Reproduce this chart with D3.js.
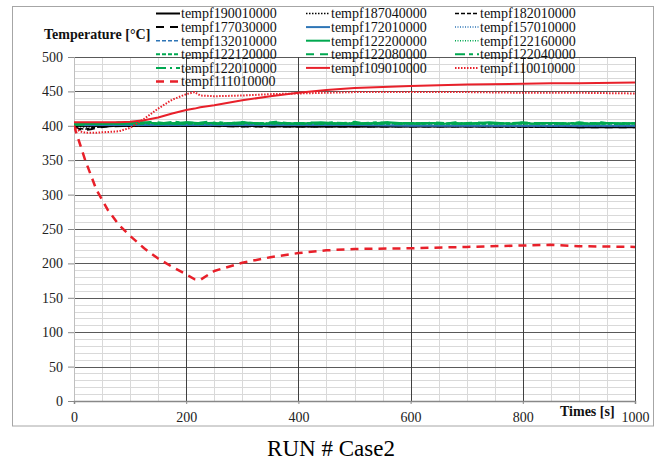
<!DOCTYPE html>
<html><head><meta charset="utf-8">
<script src="https://cdn.jsdelivr.net/npm/d3@7"></script>
<style>
body{margin:0;background:#fff;}
svg{display:block;font-family:"Liberation Serif","Times New Roman",serif;}
</style>
</head><body>
<svg id="chart" width="662" height="461"></svg>
<script>
// ---------- DATA ----------
const xTicks = [0, 200, 400, 600, 800, 1000];
const yTicks = [0, 50, 100, 150, 200, 250, 300, 350, 400, 450, 500];

const timesFlat = [0,10,20,30,40,60,100,200,300,400,500,600,700,800,900,1000];
const timesSmooth = [0,10,20,40,60,80,100,125,150,175,200,215,225,250,300,350,400,450,500,600,700,800,850,900,1000];
const timesNoisy = [0,20,40,60,80,100,120,140,160,180,200,220,240,260,280,300,320,340,360,380,400,420,440,460,480,500,520,540,560,580,600,620,640,660,680,700,720,740,760,780,800,820,840,860,880,900,920,940,960,980,1000];

const tempf190010000 = [401,400,400,400,400,400,400,400,400,399,399,399,399,399,398,398];
const tempf187040000 = [401,399,398,399,400,400,400,400,400,399,399,399,399,399,399,398];
const tempf182010000 = [400,396,395,397,398,399,400,400,399,399,399,399,399,398,398,398];
const tempf177030000 = [400,395,394,395,397,399,400,400,399,399,399,399,399,399,398,398];
const tempf172010000 = [402,401,401,401,401,401,401,401,401,401,401,400,400,400,400,400];
const tempf157010000 = [402,401,401,401,401,401,401,401,401,401,401,401,400,400,400,400];
const tempf132010000 = [402,401,401,401,401,401,401,401,401,401,401,401,401,400,400,400];
const tempf122200000 = [402,403,403,404,403,404,405,404,403,404,
                        405,404,404,403,404,405,404,403,404,404,
                        403,404,405,404,403,404,403,404,405,404,
                        403,404,404,403,404,403,404,405,404,403,
                        404,403,404,404,403,404,403,404,404,403,404];
const tempf122160000 = [402,402,402,403,403,403,403,404,403,403,404,403,403,403,403,403];
const tempf122120000 = [402,402,403,403,403,403,404,403,404,403,403,404,403,403,403,403];
const tempf122080000 = [401,402,404,403,405,403,404,406,404,403,
                        405,404,406,403,404,405,403,404,406,404,
                        403,405,404,403,404,406,403,404,405,403,
                        404,403,405,404,403,404,405,403,404,403,
                        405,404,403,404,403,405,404,403,404,403,404];
const tempf122040000 = [401,403,402,404,404,403,405,403,404,406,
                        404,403,404,405,403,405,404,403,405,403,
                        404,404,403,405,404,403,404,405,403,404,
                        404,403,404,403,405,403,404,404,403,404,
                        405,403,404,403,404,404,403,405,403,404,403];
const tempf122010000 = [402,402,402,403,403,403,403,403,403,404,403,403,403,404,403,403];
const tempf109010000 = [405,405,405,405,405,405,406,408,412,418,423,425,427,430,437,443,448,452,455,458,460,461,462,462,463];
const tempf110010000 = [400,392,390,390,391,392,397,410,425,438,446,449,444,443,444,446,447,448,449,449,449,448,448,448,447];
const tempf111010000 = [400,375,350,307,278,256,240,222,207,195,184,177,176,189,201,209,215,219,221,222,224,226,227,225,224];

const seriesNames = ["tempf190010000","tempf187040000","tempf182010000",
                     "tempf177030000","tempf172010000","tempf157010000",
                     "tempf132010000","tempf122200000","tempf122160000",
                     "tempf122120000","tempf122080000","tempf122040000",
                     "tempf122010000","tempf109010000","tempf110010000",
                     "tempf111010000"];
const seriesTimes = [timesFlat,timesFlat,timesFlat,timesFlat,timesFlat,timesFlat,timesFlat,
                     timesNoisy,timesFlat,timesFlat,timesNoisy,timesNoisy,timesFlat,
                     timesSmooth,timesSmooth,timesSmooth];
const seriesValues = [tempf190010000,tempf187040000,tempf182010000,tempf177030000,tempf172010000,
                      tempf157010000,tempf132010000,tempf122200000,tempf122160000,tempf122120000,
                      tempf122080000,tempf122040000,tempf122010000,tempf109010000,tempf110010000,
                      tempf111010000];

// ---------- STYLES ----------
const BLACK="#000000", BLUE="#2e75b6", GREEN="#00a850", RED="#e8202a";
const styles = [
  {c:BLACK, w:2,   d:null},
  {c:BLACK, w:1.5, d:"1.5,1.5"},
  {c:BLACK, w:1.5, d:"4,2"},
  {c:BLACK, w:2,   d:"8,6"},
  {c:BLUE,  w:2,   d:null},
  {c:BLUE,  w:1.5, d:"1,1.5"},
  {c:BLUE,  w:1.5, d:"4,2"},
  {c:GREEN, w:2,   d:null},
  {c:GREEN, w:1.5, d:"1,1.5"},
  {c:GREEN, w:2,   d:"4,2"},
  {c:GREEN, w:2,   d:"8,6"},
  {c:GREEN, w:2,   d:"10,4,4,4"},
  {c:GREEN, w:2,   d:"10,4,2,4"},
  {c:RED,   w:2,   d:null},
  {c:RED,   w:2,   d:"1.5,1.5"},
  {c:RED,   w:2.5, d:"8,6"}
];

// ---------- CHART ----------
const svg = d3.select("#chart");
const L=74, R=635, T=57, B=401;
const x = d3.scaleLinear().domain([0,1000]).range([L,R]);
const y = d3.scaleLinear().domain([0,500]).range([B,T]);

svg.append("rect").attr("x",12.5).attr("y",6.5).attr("width",641).attr("height",419.5)
   .attr("fill","#fff").attr("stroke","#a6a6a6").attr("stroke-width",1);

const grid = svg.append("g");
d3.range(0,501,10).filter(v=>v%50!==0).forEach(v=>{
  grid.append("line").attr("x1",L).attr("x2",R).attr("y1",Math.round(y(v))+0.5).attr("y2",Math.round(y(v))+0.5)
    .attr("stroke","#d9d9d9").attr("stroke-width",1);
});
d3.range(0,1001,50).filter(v=>v%200!==0).forEach(v=>{
  grid.append("line").attr("y1",T).attr("y2",B).attr("x1",Math.round(x(v))+0.5).attr("x2",Math.round(x(v))+0.5)
    .attr("stroke","#d9d9d9").attr("stroke-width",1);
});
yTicks.filter(v=>v>0).forEach(v=>{
  grid.append("line").attr("x1",L).attr("x2",R).attr("y1",Math.round(y(v))+0.5).attr("y2",Math.round(y(v))+0.5)
    .attr("stroke","#595959").attr("stroke-width",1);
});
xTicks.filter(v=>v>0).forEach(v=>{
  grid.append("line").attr("y1",T).attr("y2",B).attr("x1",Math.round(x(v))+0.5).attr("x2",Math.round(x(v))+0.5)
    .attr("stroke","#404040").attr("stroke-width",1);
});

const yAxis = svg.append("g").attr("transform",`translate(${L},0)`)
  .call(d3.axisLeft(y).tickValues(yTicks).tickSize(6).tickPadding(5).tickFormat(d3.format("d")));
yAxis.select(".domain").attr("stroke","#bfbfbf");
yAxis.selectAll(".tick line").attr("stroke","#888");
yAxis.selectAll("text").attr("font-size",14).attr("fill","#222").attr("font-family","Liberation Serif");

const xAxis = svg.append("g").attr("transform",`translate(0,${B})`)
  .call(d3.axisBottom(x).tickValues(xTicks).tickSize(3).tickPadding(8).tickFormat(d3.format("d")));
xAxis.select(".domain").attr("stroke","#888").attr("stroke-width",1.5);
xAxis.selectAll(".tick line").attr("stroke","#888");
xAxis.selectAll("text").attr("font-size",14).attr("fill","#222").attr("font-family","Liberation Serif");

svg.append("clipPath").attr("id","plotclip").append("rect")
  .attr("x",L).attr("y",T-5).attr("width",R-L).attr("height",B-T+5);

const line = d3.line().x(d=>x(d[0])).y(d=>y(d[1]));
const lines = svg.append("g").attr("clip-path","url(#plotclip)");
seriesNames.forEach((name,i)=>{
  const pts = seriesTimes[i].map((t,j)=>[t, seriesValues[i][j]]);
  const s = styles[i];
  lines.append("path").datum(pts).attr("d",line)
    .attr("fill","none").attr("stroke",s.c).attr("stroke-width",s.w)
    .attr("stroke-dasharray",s.d).attr("stroke-linejoin","round");
});

svg.append("text").attr("x",44).attr("y",39).attr("font-size",14).attr("font-weight","bold")
  .attr("fill","#111").text("Temperature [°C]");
svg.append("text").attr("x",560).attr("y",416).attr("font-size",14).attr("font-weight","bold")
  .attr("fill","#111").text("Times [s]");

const colX = [156, 306, 455];
const legend = svg.append("g");
seriesNames.forEach((name,i)=>{
  const col = i%3, row = Math.floor(i/3);
  const ly = 13.5 + row*13.6;
  const s = styles[i];
  legend.append("line").attr("x1",colX[col]).attr("x2",colX[col]+24).attr("y1",ly).attr("y2",ly)
    .attr("stroke",s.c).attr("stroke-width",s.w).attr("stroke-dasharray",s.d);
  legend.append("text").attr("x",colX[col]+25).attr("y",ly).attr("dy","0.35em")
    .attr("font-size",14).attr("fill","#111").text(name);
});

svg.append("text").attr("x",331).attr("y",456).attr("text-anchor","middle")
  .attr("font-size",23).attr("fill","#000").text("RUN # Case2");
</script>
</body></html>
